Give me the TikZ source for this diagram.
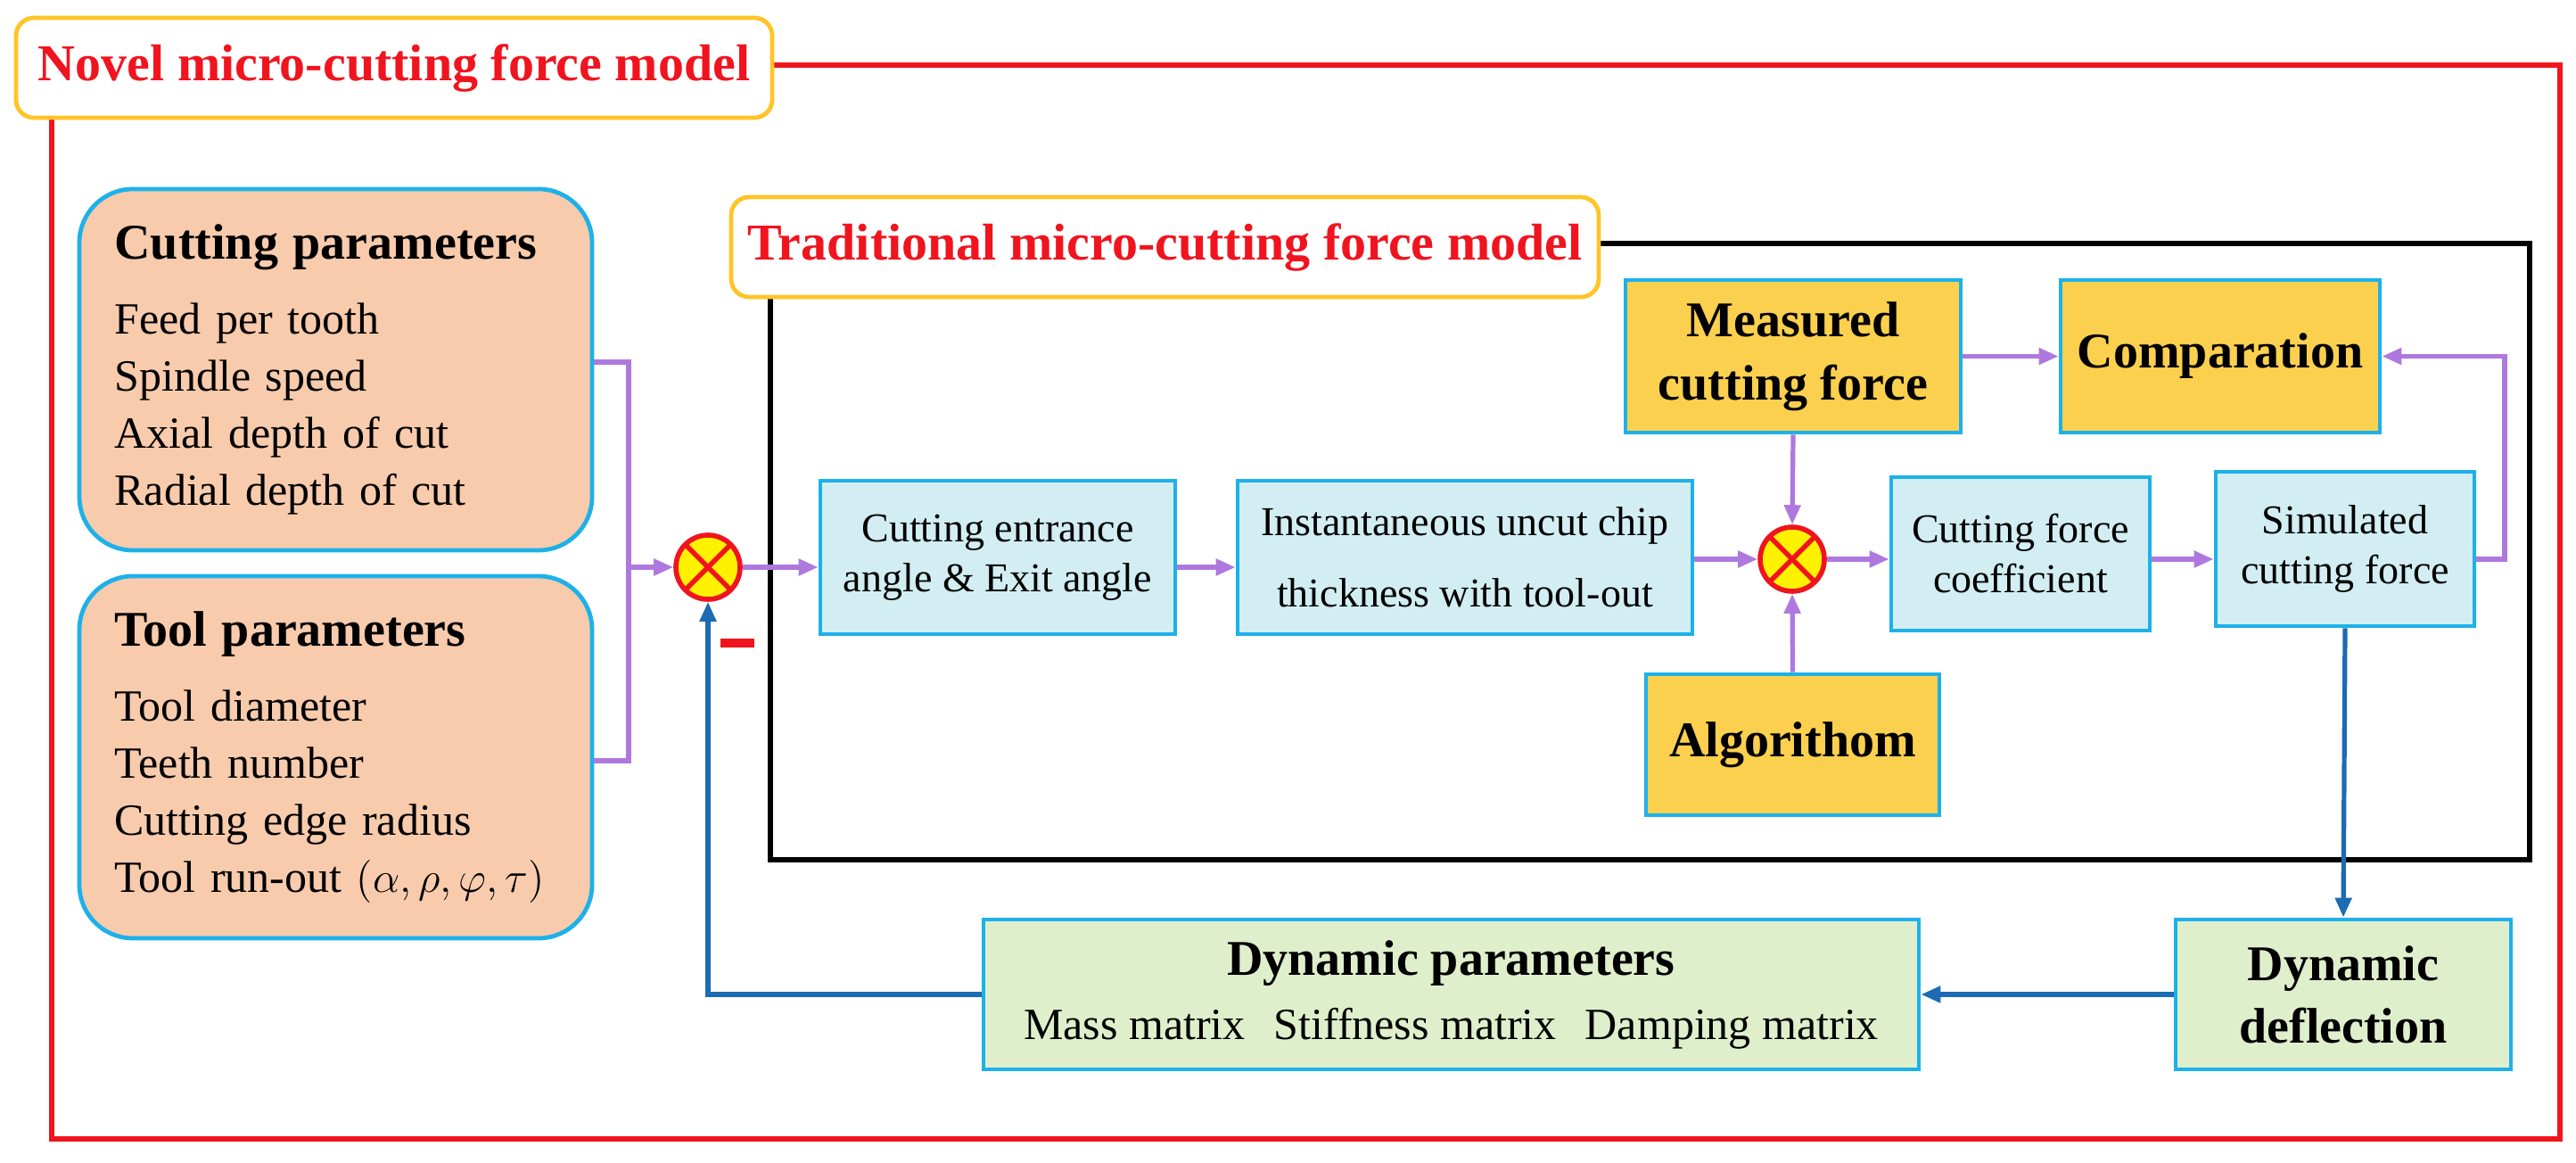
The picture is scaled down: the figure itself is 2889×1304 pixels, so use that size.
\documentclass[tikz,border=0pt]{standalone}
\usepackage{fontspec}
\setmainfont{Liberation Serif}
\usetikzlibrary{arrows.meta,positioning,calc}
\definecolor{bord}{HTML}{1DB1EA}
\definecolor{peach}{HTML}{F7CBAC}
\definecolor{cyanf}{HTML}{D2EEF2}
\definecolor{goldf}{HTML}{FBD04E}
\definecolor{greenf}{HTML}{DFEFCB}
\definecolor{purp}{HTML}{AF78DE}
\definecolor{bluea}{HTML}{1C6BB3}
\definecolor{titleb}{HTML}{FFC426}
\definecolor{redf}{HTML}{F0141E}
\begin{document}
\begin{tikzpicture}[x=0.25pt,y=-0.25pt,
 box/.style={draw=bord,line width=1.2pt,align=center,inner sep=2pt},
 cy/.style={box,fill=cyanf,font=\fontsize{11.5}{14}\selectfont},
 gd/.style={box,fill=goldf,font=\bfseries\fontsize{14}{17.75}\selectfont},
 gr/.style={box,fill=greenf},
 pc/.style={box,fill=peach,rounded corners=15pt,align=left,text width=124pt,font=\fontsize{12.5}{16}\selectfont},
 ttl/.style={draw=titleb,line width=1.2pt,fill=white,rounded corners=5pt,text=redf,font=\bfseries\fontsize{14.5}{18}\selectfont},
 sum/.style={circle,fill=yellow,draw=redf,line width=1.4pt,minimum size=18pt,inner sep=0pt,
   path picture={\draw[redf,line width=1.4pt] ([shift={(-1pt,-1pt)}]path picture bounding box.south west)--([shift={(1pt,1pt)}]path picture bounding box.north east) ([shift={(-1pt,1pt)}]path picture bounding box.north west)--([shift={(1pt,-1pt)}]path picture bounding box.south east);}},
 pa/.style={purp,line width=1.3pt,-{Triangle[length=5.5pt,width=4.5pt]}},
 pl/.style={purp,line width=1.3pt},
 ba/.style={bluea,line width=1.3pt,-{Triangle[length=5.5pt,width=4.5pt]}}]
\useasboundingbox (0,0) rectangle (2889,1304);
% frames
\draw[redf,line width=1.4pt] (58,73) rectangle (2871,1277);
\draw[black,line width=1.5pt] (864,273) rectangle (2837,964);
\node[ttl,minimum width=212pt,minimum height=28pt] (novel) at (442,76) {Novel micro-cutting force model};
\node[ttl,minimum width=243.25pt,minimum height=28pt] (trad) at (1306.5,277) {Traditional micro-cutting force model};
% left boxes
\node[pc,minimum width=143.75pt,minimum height=101.25pt] (cp) at (376.5,414.5)
 {\textbf{\fontsize{14}{16}\selectfont Cutting parameters}\\[5pt]Feed per tooth\\Spindle speed\\Axial depth of cut\\Radial depth of cut};
\node[pc,minimum width=143.75pt,minimum height=101.5pt] (tp) at (376.5,849)
 {\textbf{\fontsize{14}{16}\selectfont Tool parameters}\\[5pt]Tool diameter\\Teeth number\\Cutting edge radius\\Tool run-out $(\alpha,\rho,\varphi,\tau)$};
\node[sum] (s1) at (794,636) {};
\node[cy,minimum width=99.5pt,minimum height=43pt] (ce) at (1119,625) {Cutting entrance\\angle \& Exit angle};
\node[cy,minimum width=127.5pt,minimum height=43pt,font=\fontsize{11.5}{20}\selectfont] (inst) at (1643,625) {Instantaneous uncut chip\\thickness with tool-out};
\node[sum] (s2) at (2010,627) {};
\node[gd,minimum width=94pt,minimum height=42.75pt] (meas) at (2011,399.5) {Measured\\cutting force};
\node[gd,minimum width=89.5pt,minimum height=42.75pt] (comp) at (2490,399.5) {Comparation};
\node[cy,minimum width=72.5pt,minimum height=43pt] (cfc) at (2266,621) {Cutting force\\coefficient};
\node[cy,minimum width=72.5pt,minimum height=43.25pt] (sim) at (2630,615.5) {Simulated\\cutting force};
\node[gd,minimum width=82.25pt,minimum height=39.5pt] (alg) at (2010.5,835) {Algorithom};
\node[gr,minimum width=94pt,minimum height=42pt,font=\bfseries\fontsize{14}{17.5}\selectfont] (defl) at (2628,1115) {Dynamic\\deflection};
\node[gr,minimum width=262.25pt,minimum height=42pt,font=\fontsize{12.5}{18}\selectfont] (dyn) at (1627.5,1115)
 {\textbf{\fontsize{14}{18}\selectfont Dynamic parameters}\\Mass matrix\hspace{8pt}Stiffness matrix\hspace{8pt}Damping matrix};
% minus sign
\fill[redf] (808,716) rectangle (846,726);
% connectors
\coordinate (bt) at (705,406);
\coordinate (bb) at (705,853);
\coordinate (bm) at (705,636);
\draw[pl] (cp.east |- bt) -- (bt) -- (bb) -- (tp.east |- bb);
\draw[pa] (bm) -- (s1.west);
\draw[pa] (s1.east) -- (s1.east -| ce.west);
\draw[pa] (ce.east |- s1) -- (inst.west |- s1);
\draw[pa] (inst.east |- s2) -- (s2.west);
\draw[pa] (meas.south) -- (s2.north);
\draw[pa] (alg.north) -- (s2.south);
\draw[pa] (s2.east) -- (s2.east -| cfc.west);
\draw[pa] (cfc.east |- s2) -- (sim.west |- s2);
\draw[pa] (meas.east) -- (comp.west);
\coordinate (fr) at (2809,627);
\draw[pa] (sim.east |- fr) -- (fr) |- (comp.east);
\draw[ba] (sim.south) -- (defl.north);
\draw[ba] (defl.west) -- (dyn.east);
\coordinate (fb) at (794,1115);
\draw[ba] (dyn.west) -- (fb) -- (s1.south);
\end{tikzpicture}
\end{document}
